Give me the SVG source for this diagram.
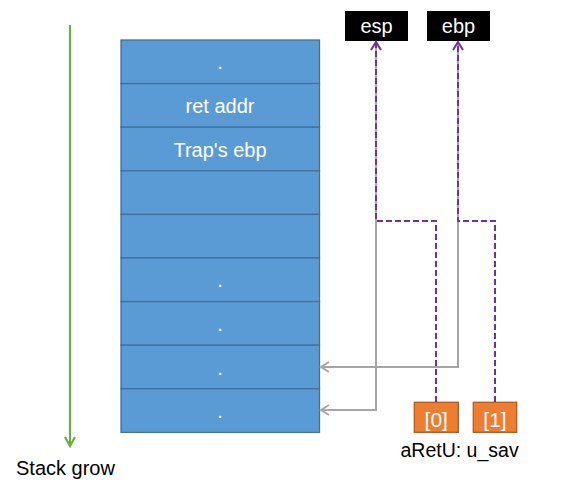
<svg xmlns="http://www.w3.org/2000/svg" width="561" height="493" viewBox="0 0 561 493">
<style>
.cell{fill:#5B9BD5;stroke:#41719C;stroke-width:1.3}
.ct{font-family:"Liberation Sans",Arial,sans-serif;font-size:20px;fill:#fff;text-anchor:middle}
.lbl{font-family:"Liberation Sans",Arial,sans-serif;font-size:19.5px;fill:#000}
.reg{fill:#000}
.arr{fill:#ED7D31;stroke:#AE5A21;stroke-width:1.3}
.gray{fill:none;stroke:#A5A5A5;stroke-width:2}
.purp{fill:none;stroke:#7030A0;stroke-width:2;stroke-dasharray:6 3}
.green{fill:none;stroke:#70AD47;stroke-width:2.2}
</style>
<defs>
<marker id="mg" viewBox="-10 -7 12 14" refX="0" refY="0" markerWidth="12" markerHeight="14" markerUnits="userSpaceOnUse" orient="auto" overflow="visible">
<path d="M-8,-5 L0,0 L-8,5" fill="none" stroke="#A5A5A5" stroke-width="2"/>
</marker>
<marker id="mp" viewBox="-10 -7 12 14" refX="0" refY="0" markerWidth="12" markerHeight="14" markerUnits="userSpaceOnUse" orient="auto" overflow="visible">
<path d="M-8,-5 L0,0 L-8,5" fill="none" stroke="#7030A0" stroke-width="2"/>
</marker>
<marker id="mgr" viewBox="-10 -7 12 14" refX="0" refY="0" markerWidth="12" markerHeight="14" markerUnits="userSpaceOnUse" orient="auto" overflow="visible">
<path d="M-9,-5 L0,0 L-9,5" fill="none" stroke="#70AD47" stroke-width="2.2"/>
</marker>
</defs>
<rect width="561" height="493" fill="#fff"/>
<g id="stack">
<rect class="cell" x="121" y="40" width="198.5" height="43.6"/>
<rect class="cell" x="121" y="83.6" width="198.5" height="43.6"/>
<rect class="cell" x="121" y="127.2" width="198.5" height="43.6"/>
<rect class="cell" x="121" y="170.8" width="198.5" height="43.6"/>
<rect class="cell" x="121" y="214.4" width="198.5" height="43.6"/>
<rect class="cell" x="121" y="258" width="198.5" height="43.6"/>
<rect class="cell" x="121" y="301.6" width="198.5" height="43.6"/>
<rect class="cell" x="121" y="345.2" width="198.5" height="43.6"/>
<rect class="cell" x="121" y="388.8" width="198.5" height="43.6"/>
<text class="ct" x="220" y="69.4">.</text>
<text class="ct" x="220" y="113">ret addr</text>
<text class="ct" x="220" y="156.6">Trap's ebp</text>
<text class="ct" x="220" y="287.4">.</text>
<text class="ct" x="220" y="331">.</text>
<text class="ct" x="220" y="374.6">.</text>
<text class="ct" x="220" y="418.2">.</text>
</g>
<g id="esp">
<rect class="reg" x="345" y="11" width="63" height="30"/>
<text class="ct" x="376.5" y="33">esp</text>
</g>
<g id="ebp">
<rect class="reg" x="427" y="11" width="63" height="30"/>
<text class="ct" x="458.5" y="33">ebp</text>
</g>
<g id="aRetU0">
<rect class="arr" x="414.3" y="402.3" width="44" height="30"/>
<text class="ct" x="436.3" y="426.5" style="font-size:21px">[0]</text>
</g>
<g id="aRetU1">
<rect class="arr" x="473.3" y="402.3" width="43.4" height="30"/>
<text class="ct" x="495" y="426.5" style="font-size:21px">[1]</text>
</g>
<g id="labels">
<text class="lbl" x="400.5" y="456.5">aRetU: u_sav</text>
<text class="lbl" x="16" y="475" style="font-size:20px">Stack grow</text>
</g>
<g id="connectors">
<path class="green" d="M70,25 V446" marker-end="url(#mgr)"/>
<path class="gray" d="M376,43 V410 H321" marker-end="url(#mg)"/>
<path class="gray" d="M458,43 V367 H321" marker-end="url(#mg)"/>
<path class="purp" d="M436,402 V221 H376 V42" marker-end="url(#mp)"/>
<path class="purp" d="M495,402 V221 H458 V42" marker-end="url(#mp)"/>
</g>
</svg>
